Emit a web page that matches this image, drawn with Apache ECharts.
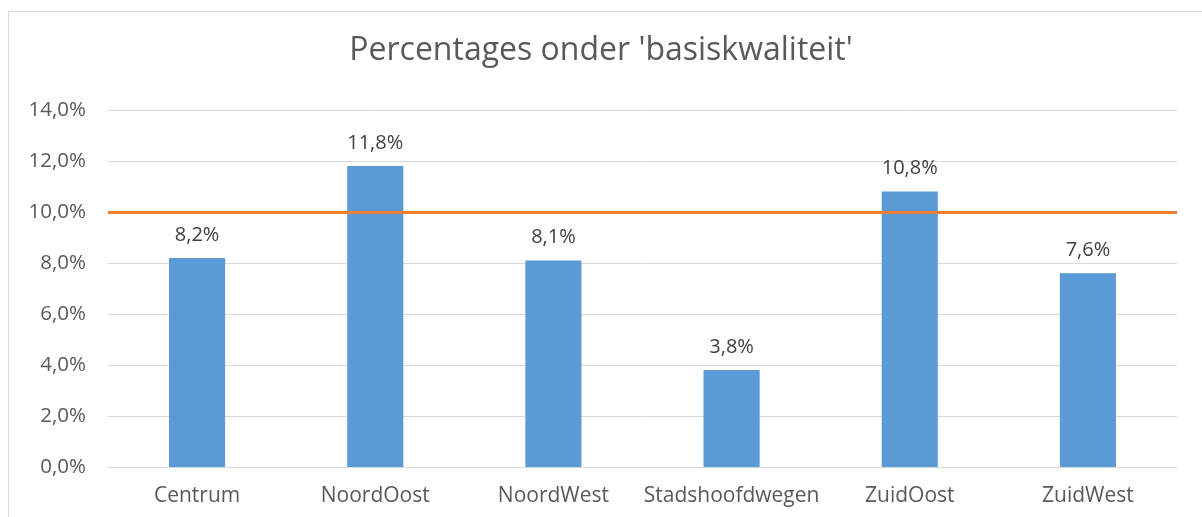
<!DOCTYPE html>
<html>
<head>
<meta charset="utf-8">
<script src="https://cdn.jsdelivr.net/npm/echarts@6/dist/echarts.min.js"></script>
<style>html,body{margin:0;padding:0;background:#fff}#c{width:1202px;height:517px}</style>
</head>
<body>
<div id="c"></div>
<script>
const categories = ['Centrum', 'NoordOost', 'NoordWest', 'Stadshoofdwegen', 'ZuidOost', 'ZuidWest'];
const values = [8.2, 11.8, 8.1, 3.8, 10.8, 7.6];
const threshold = 10;
const yTicks = { min: 0, max: 14, interval: 2 };
const titleText = "Percentages onder 'basiskwaliteit'";

const fmt = v => v.toFixed(1).replace('.', ',') + '%';
const font = '"Open Sans", sans-serif';
const chart = echarts.init(document.getElementById('c'));
chart.setOption({
  animation: false,
  graphic: [{
    type: 'rect', shape: { x: 8.5, y: 11.5, width: 1210, height: 520 },
    style: { fill: 'none', stroke: '#d9d9d9', lineWidth: 1 }, silent: true
  }],
  title: {
    text: titleText, left: 'center', top: 30,
    textStyle: { fontFamily: font, fontSize: 32, fontWeight: 'normal', color: '#595959' }
  },
  grid: { left: 108, right: 25, top: 110, bottom: 50 },
  xAxis: {
    type: 'category', data: categories,
    axisLine: { show: true, lineStyle: { color: '#d9d9d9' } },
    axisTick: { show: false },
    axisLabel: { interval: 0, fontFamily: font, fontSize: 21, color: '#595959', margin: 19 }
  },
  yAxis: {
    type: 'value', min: yTicks.min, max: yTicks.max, interval: yTicks.interval,
    axisLine: { show: false }, axisTick: { show: false },
    splitLine: { lineStyle: { color: '#d9d9d9', width: 1 } },
    axisLabel: { fontFamily: font, fontSize: 20.5, color: '#595959', margin: 22, formatter: fmt }
  },
  series: [{
    type: 'bar', data: values, barWidth: '31.5%',
    itemStyle: { color: '#5b9bd5' },
    label: { show: true, position: 'top', distance: 13, fontFamily: font, fontSize: 20, color: '#404040', formatter: p => fmt(p.value) },
    markLine: {
      silent: true, symbol: 'none', label: { show: false },
      lineStyle: { color: '#ed7d31', width: 3, type: 'solid' },
      data: [{ yAxis: threshold }]
    }
  }]
});
</script>
</body>
</html>
